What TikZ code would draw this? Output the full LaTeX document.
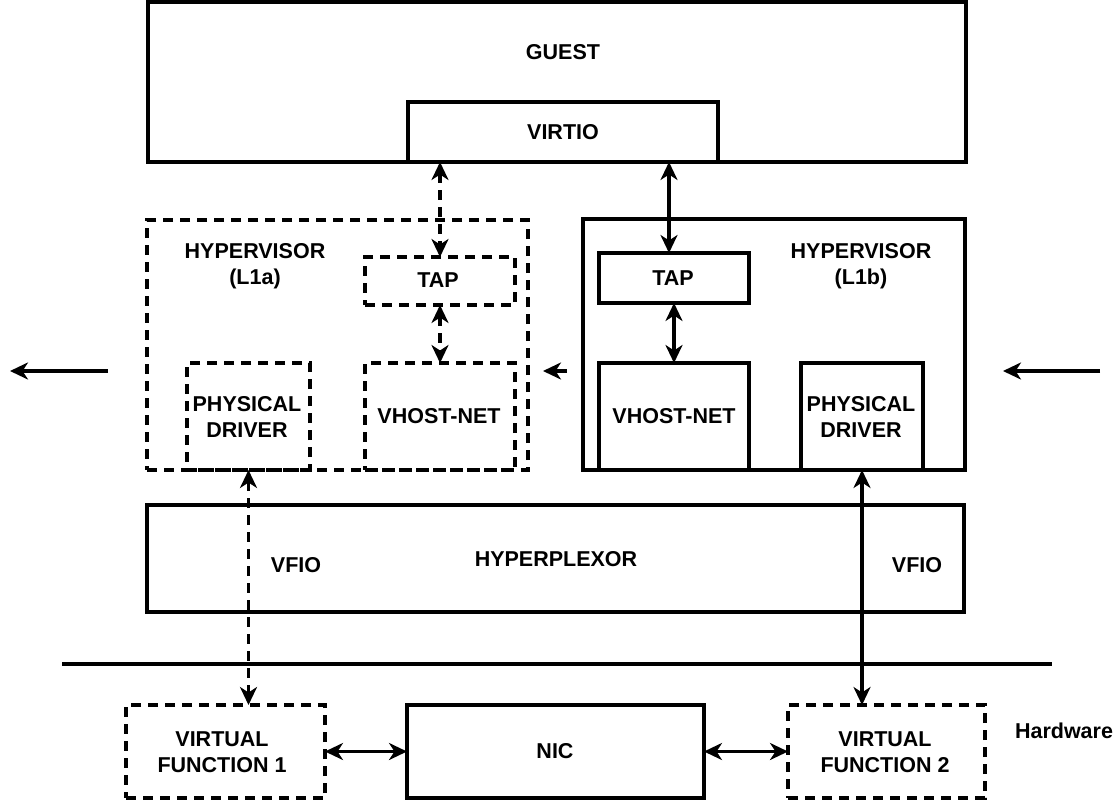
\documentclass[tikz,border=0pt]{standalone}
\usepackage{fontspec}
\setmainfont{Liberation Sans}
\usetikzlibrary{arrows.meta}
\begin{document}
\begin{tikzpicture}[x=1pt,y=-1pt,
  every node/.style={font=\fontsize{21.5}{26}\selectfont\bfseries, inner sep=0pt, outer sep=0pt},
  box/.style={draw, line width=3.6pt, rectangle},
  dbox/.style={box, dash pattern=on 10pt off 7pt},
  lbl/.style={align=center},
  tip/.style={-{Stealth[length=18pt,width=17pt,inset=5.5pt]}},
  biarrow/.style={line width=3.8pt, {Stealth[length=18pt,width=17pt,inset=5.5pt]}-{Stealth[length=18pt,width=17pt,inset=5.5pt]}},
  dbiarrow/.style={biarrow, dash pattern=on 10pt off 7pt},
  sarrow/.style={line width=3.8pt, tip}]
\useasboundingbox (0,0) rectangle (1115,800);
% guest
\node[box, minimum width=818pt, minimum height=160pt] (guest) at (557,82) {};
\node (guestlbl) at (563,52) {GUEST};
\node[box, minimum width=310pt, minimum height=60pt] (virtio) at (563,132) {};
\node (virtiolbl) at (563,132) {VIRTIO};
% hypervisor L1a
\node[dbox, minimum width=381pt, minimum height=250pt] (hypa) at (337.5,345) {};
\node[lbl] (hypalbl) at (255,266) {HYPERVISOR\\(L1a)};
\node[dbox, minimum width=150pt, minimum height=48pt] (tapa) at (440,281) {};
\node (tapalbl) at (438,280) {TAP};
\node[dbox, minimum width=123pt, minimum height=107pt] (physa) at (248.5,416.5) {};
\node[lbl] (physalbl) at (247,417) {PHYSICAL\\DRIVER};
\node[dbox, minimum width=150pt, minimum height=107pt] (vhosta) at (440,416.5) {};
\node (vhostalbl) at (439,416) {VHOST-NET};
% hypervisor L1b
\node[box, minimum width=382pt, minimum height=251pt] (hypb) at (774,344.5) {};
\node[lbl] (hypblbl) at (861,266) {HYPERVISOR\\(L1b)};
\node[box, minimum width=150pt, minimum height=50pt] (tapb) at (674,278) {};
\node (tapblbl) at (673,278) {TAP};
\node[box, minimum width=150pt, minimum height=107pt] (vhostb) at (674,416.5) {};
\node (vhostblbl) at (674,416) {VHOST-NET};
\node[box, minimum width=122pt, minimum height=107pt] (physb) at (862,416.5) {};
\node[lbl] (physblbl) at (861,417) {PHYSICAL\\DRIVER};
% hyperplexor
\node[box, minimum width=817pt, minimum height=107pt] (hyper) at (555.5,558.5) {};
\node (hyperlbl) at (556,559) {HYPERPLEXOR};
\node (vfioa) at (296,565) {VFIO};
\node (vfiob) at (917,565) {VFIO};
% hardware line
\coordinate (hwl) at (62,664);
\coordinate (hwr) at (1052,664);
\draw[line width=3.6pt] (hwl) -- (hwr);
\node (hwlbl) at (1064,731) {Hardware};
% hardware boxes
\node[dbox, minimum width=199pt, minimum height=93pt] (vf1) at (225.5,751.5) {};
\node[lbl] (vf1lbl) at (222,752) {VIRTUAL\\FUNCTION 1};
\node[box, minimum width=297pt, minimum height=93pt] (nic) at (555.5,751.5) {};
\node (niclbl) at (555,751) {NIC};
\node[dbox, minimum width=197pt, minimum height=93pt] (vf2) at (886.5,751.5) {};
\node[lbl] (vf2lbl) at (885,752) {VIRTUAL\\FUNCTION 2};
% connectors
\draw[dbiarrow] (tapa.north |- virtio.south) -- (tapa.north);
\draw[dbiarrow] (tapa.south) -- (vhosta.north);
\draw[dbiarrow] (physa.south) -- (physa.south |- vf1.north);
\draw[biarrow] ([xshift=-5pt]tapb.north |- virtio.south) -- ([xshift=-5pt]tapb.north);
\draw[biarrow] (tapb.south) -- (vhostb.north);
\draw[biarrow] (physb.south) -- (physb.south |- vf2.north);
\draw[biarrow] (vf1.east) -- (nic.west);
\draw[biarrow] (nic.east) -- (vf2.west);
% free arrows
\coordinate (la1) at (108,371); \coordinate (la2) at (10,371);
\coordinate (ma1) at (567,371); \coordinate (ma2) at (543,371);
\coordinate (ra1) at (1100,371); \coordinate (ra2) at (1003,371);
\draw[sarrow] (la1) -- (la2);
\draw[sarrow] (ma1) -- (ma2);
\draw[sarrow] (ra1) -- (ra2);
\end{tikzpicture}
\end{document}
